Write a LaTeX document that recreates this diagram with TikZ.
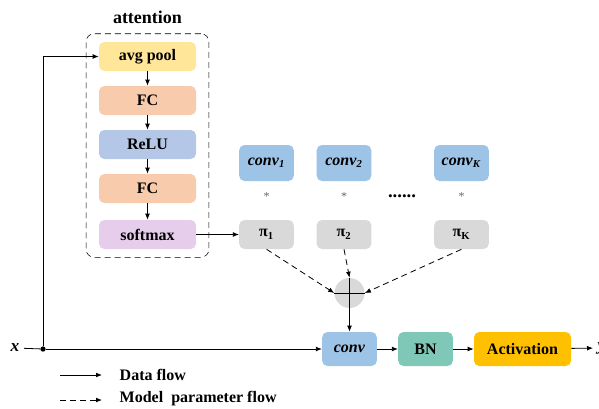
\documentclass[tikz,border=0pt]{standalone}
\usepackage{fontspec}
\setmainfont{Liberation Serif}
\usetikzlibrary{arrows.meta,fit}

\definecolor{poolyellow}{HTML}{FFE699}
\definecolor{fcorange}{HTML}{F8CBAD}
\definecolor{relublue}{HTML}{B4C7E7}
\definecolor{softpink}{HTML}{E6CDEB}
\definecolor{convblue}{HTML}{9DC3E6}
\definecolor{pigray}{HTML}{D9D9D9}
\definecolor{bngreen}{HTML}{7FC7B7}
\definecolor{actorange}{HTML}{FFC000}

\begin{document}
\begin{tikzpicture}[x=0.75pt,y=-0.75pt,->,>={Latex[length=4.5pt,width=3.6pt]},font=\fontsize{12}{14}\selectfont\bfseries]
        \tikzstyle{layer}=[rectangle,rounded corners=4pt,minimum width=72.75pt,minimum height=21.75pt,inner sep=0pt]
        \tikzstyle{kernel}=[rectangle,rounded corners=4pt,fill=convblue,minimum width=41pt,minimum height=27pt,inner sep=0pt]
        \tikzstyle{weight}=[rectangle,rounded corners=4pt,fill=pigray,minimum width=41pt,minimum height=21.75pt,inner sep=0pt]
        \tikzstyle{star}=[font=\fontsize{9}{9}\selectfont\mdseries,text=black!60]
        \tikzstyle{edge}=[draw,semithick]
        \tikzstyle{param}=[draw,semithick,dash pattern=on 4.5pt off 3pt]
        \useasboundingbox (0,0) rectangle (599,408);

       % attention branch
       \begin{scope}
         \node [layer,fill=poolyellow] (pool) at (147.5,56.5) {avg pool};
         \node [layer,fill=fcorange] (fc1) at (147.5,100.5) {FC};
         \node [layer,fill=relublue] (relu) at (147.5,144.5) {ReLU};
         \node [layer,fill=fcorange] (fc2) at (147.5,188.5) {FC};
         \node [layer,fill=softpink] (soft) at (147.5,234.5) {softmax};
         \node [draw,dash pattern=on 4.5pt off 3pt,rounded corners=6pt,fit=(pool)(soft),inner xsep=9.5pt,inner ysep=6pt] (att) {};
         \node [font=\fontsize{13.5}{15}\selectfont\bfseries] (atttitle) at (147.5,17) {attention};
         \path[edge] (pool) -- (fc1);
         \path[edge] (fc1) -- (relu);
         \path[edge] (relu) -- (fc2);
         \path[edge] (fc2) -- (soft);
       \end{scope}

       % kernels and their weights
       \begin{scope}
         \node [kernel] (conv1) at (266.5,163) {\textit{conv}\textsubscript{\textit{1}}};
         \node [kernel] (conv2) at (344,163) {\textit{conv}\textsubscript{\textit{2}}};
         \node [kernel] (convK) at (461.5,163) {\textit{conv}\textsubscript{\textit{K}}};
         \node [star] (star1) at (266.5,197) {*};
         \node [star] (star2) at (344,197) {*};
         \node [star] (starK) at (461.5,197) {*};
         \node [font=\fontsize{14}{14}\selectfont\bfseries] (dots) at (402,196) {......};
         \node [weight] (pi1) at (266.5,234.5) {π\textsubscript{1}};
         \node [weight] (pi2) at (344,234.5) {π\textsubscript{2}};
         \node [weight] (piK) at (461.5,234.5) {π\textsubscript{K}};
         \node [circle,fill=pigray,minimum size=22.5pt,inner sep=0pt] (sum) at (349.5,293) {};
         \path[edge] (soft) -- (pi1);
         \path[param] (pi1.south) -- (sum.west);
         \path[param] (pi2.south) -- (sum.north);
         \path[param] (piK.south) -- (sum.east);
         \path[edge,-] (sum.west) -- (sum.east);
       \end{scope}

       % main path
       \begin{scope}
         \node [font=\fontsize{13}{14}\selectfont\bfseries\itshape] (x) at (15,348) {x};
         \node [circle,fill=black,inner sep=0pt,minimum size=4pt] (split) at (43,349) {};
         \node [kernel,minimum height=25.5pt] (conv) at (349.5,349) {\textit{conv}};
         \node [kernel,minimum height=25.5pt,fill=bngreen] (bn) at (425.5,349) {BN};
         \node [layer,minimum height=25.5pt,fill=actorange] (act) at (522.5,349) {Activation};
         \node [font=\fontsize{13}{14}\selectfont\bfseries\itshape,anchor=west] (y) at (593,348) {y};
         \path[edge,-] (x) -- (split);
         \path[edge] (split) -- (conv);
         \path[edge] (split) |- (pool);
         \path[edge] (sum.north) -- (conv);
         \path[edge] (conv) -- (bn);
         \path[edge] (bn) -- (act);
         \path[edge] (act) -- (y);
       \end{scope}

       % legend
       \begin{scope}
         \coordinate (d1) at (60,375);
         \coordinate (d2) at (102,375);
         \coordinate (m1) at (60,400);
         \coordinate (m2) at (102,400);
         \path[edge] (d1) -- (d2);
         \path[param] (m1) -- (m2);
         \node [anchor=west] (dtext) at (115,375) {Data flow};
         \node [anchor=west] (mtext) at (115,399) {Model~~parameter flow};
       \end{scope}
      \end{tikzpicture}
\end{document}
